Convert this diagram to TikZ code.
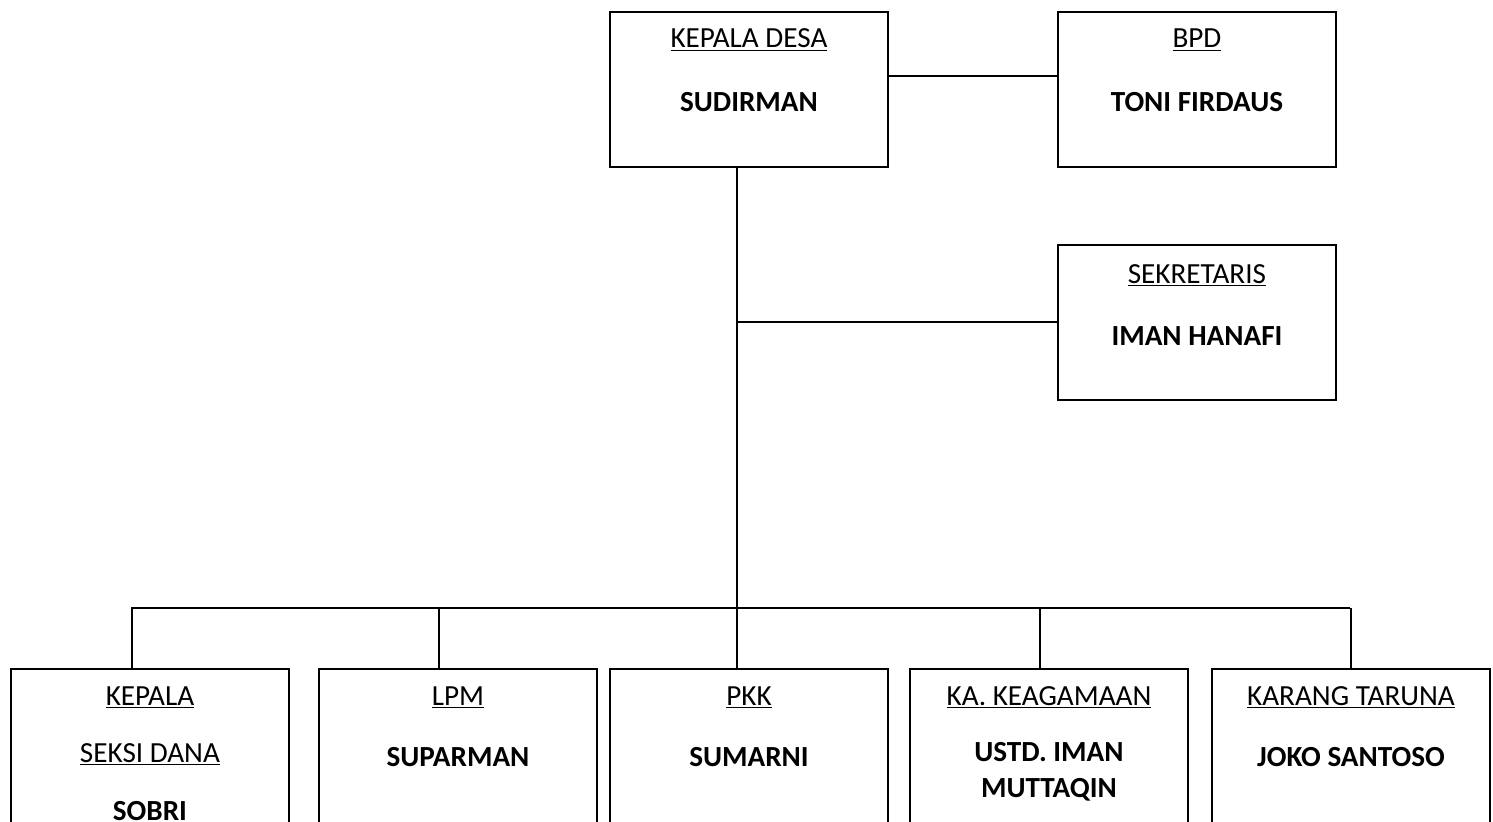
\documentclass[tikz,border=0pt]{standalone}
\usepackage{fontspec}
\setmainfont{Carlito}
\usetikzlibrary{calc}

\begin{document}
\begin{tikzpicture}[x=0.02cm, y=-0.02cm]

% =======================================================
% Layout parameters (pixel units, y grows downward)
% =======================================================
\def\boxw{5.56cm}   % box width
\def\boxh{3.1cm}    % box height (top row)
\def\busy{608}      % level of the lower bus line

% =======================================================
% Styles
% =======================================================
\tikzset{
  orgbox/.style  = {draw, line width=1.1pt, anchor=north west, inner sep=0pt,
                    minimum width=\boxw, minimum height=\boxh},
  lowbox/.style  = {orgbox, minimum height=4cm},
  jabatan/.style = {anchor=base, inner sep=0pt, font=\fontsize{16.6}{20}\selectfont},
  nama/.style    = {jabatan, font=\fontsize{16.6}{20}\selectfont\bfseries},
  garis/.style   = {line width=1.1pt},
}

% page frame
\path[use as bounding box, clip] (0,0) rectangle (1493,821);

% =======================================================
% Top row: kepala desa, BPD, sekretaris
% =======================================================
\node[orgbox] (kades) at (609,11) {};
\node[orgbox] (bpd)   at (1057,11) {};
\node[orgbox] (sekre) at (1057,244) {};

\node[jabatan] (kadesT) at ($(kades.north)+(0,37)$)  {\underline{KEPALA DESA}};
\node[nama]    (kadesN) at ($(kades.north)+(0,101)$) {SUDIRMAN};

\node[jabatan] (bpdT) at ($(bpd.north)+(0,37)$)  {\underline{BPD}};
\node[nama]    (bpdN) at ($(bpd.north)+(0,101)$) {TONI FIRDAUS};

\node[jabatan] (sekreT) at ($(sekre.north)+(0,39)$)  {\underline{SEKRETARIS}};
\node[nama]    (sekreN) at ($(sekre.north)+(0,101)$) {IMAN HANAFI};

% =======================================================
% Bottom row (boxes run past the page edge)
% =======================================================
\node[lowbox] (kasi)  at (10,668) {};
\node[lowbox] (lpm)   at (318,668) {};
\node[lowbox] (pkk)   at (609,668) {};
\node[lowbox] (keag)  at (909,668) {};
\node[lowbox] (karang) at (1211,668) {};

\node[jabatan] (kasiT1) at ($(kasi.north)+(0,37)$)  {\underline{KEPALA}};
\node[jabatan] (kasiT2) at ($(kasi.north)+(0,94)$)  {\underline{SEKSI DANA}};
\node[nama]    (kasiN)  at ($(kasi.north)+(0,152)$) {SOBRI};

\node[jabatan] (lpmT) at ($(lpm.north)+(0,37)$) {\underline{LPM}};
\node[nama]    (lpmN) at ($(lpm.north)+(0,98)$) {SUPARMAN};

\node[jabatan] (pkkT) at ($(pkk.north)+(0,37)$) {\underline{PKK}};
\node[nama]    (pkkN) at ($(pkk.north)+(0,98)$) {SUMARNI};

\node[jabatan] (keagT)  at ($(keag.north)+(0,37)$)  {\underline{KA. KEAGAMAAN}};
\node[nama]    (keagN1) at ($(keag.north)+(0,93)$)  {USTD. IMAN};
\node[nama]    (keagN2) at ($(keag.north)+(0,129)$) {MUTTAQIN};

\node[jabatan] (karangT) at ($(karang.north)+(0,37)$) {\underline{KARANG TARUNA}};
\node[nama]    (karangN) at ($(karang.north)+(0,98)$) {JOKO SANTOSO};

% =======================================================
% Connectors
% =======================================================
\coordinate (busW) at (131,\busy);
\coordinate (busE) at (1350,\busy);

% kepala desa -- BPD
\draw[garis] ($(kades.east)+(0,-13)$) -- ($(bpd.west)+(0,-13)$);

% trunk down from kepala desa
\draw[garis] ($(kades.south)+(-12,0)$) coordinate (trunk) -- (trunk |- busW);

% sekretaris branch
\draw[garis] (sekre.west) -- (sekre.west -| trunk);

% bus line
\draw[garis] (busW) -- (busE);

% drops to the bottom row
\draw[garis] ($(kasi.north)+(-18,0)$)  coordinate (d1) -- (d1 |- busW);
\draw[garis] ($(lpm.north)+(-19,0)$)   coordinate (d2) -- (d2 |- busW);
\draw[garis] ($(pkk.north)+(-12,0)$)   coordinate (d3) -- (d3 |- busW);
\draw[garis] ($(keag.north)+(-9,0)$)   coordinate (d4) -- (d4 |- busW);
\draw[garis] (karang.north) -- (karang.north |- busE);

\end{tikzpicture}
\end{document}
